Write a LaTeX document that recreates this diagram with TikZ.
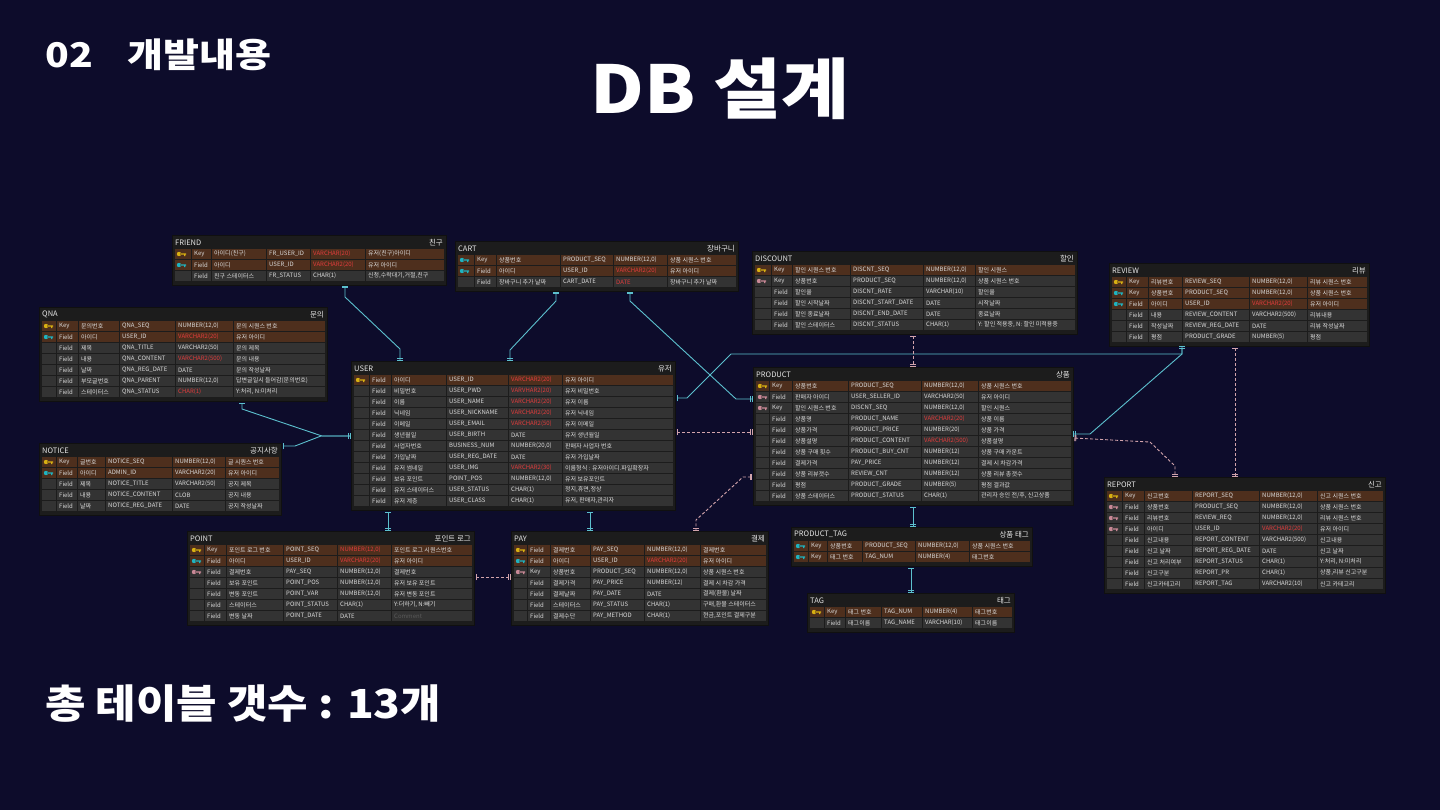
\documentclass[tikz,border=0pt]{standalone}
\usepackage{fontspec}
\setmainfont{Noto Sans CJK KR}
\usetikzlibrary{arrows.meta}

\definecolor{deepnavy}{HTML}{0D0C2B}
\definecolor{boxfill}{HTML}{1C1C1C}
\definecolor{boxline}{HTML}{101010}
\definecolor{rowkey}{HTML}{4E2F1D}
\definecolor{rowplain}{HTML}{333333}
\definecolor{celltext}{HTML}{DADADA}
\definecolor{titletext}{HTML}{E6E6E6}
\definecolor{dimtext}{HTML}{5A5A5A}
\definecolor{typered}{HTML}{E23C3C}
\definecolor{keygold}{HTML}{D8B012}
\definecolor{keyteal}{HTML}{1FB3C0}
\definecolor{keypink}{HTML}{C98896}
\definecolor{linkteal}{HTML}{5CC0CE}
\definecolor{linkpink}{HTML}{D2A4AC}

\newcommand{\redtype}[1]{\textcolor{typered}{#1}}

% column edges of the current table
\def\erdsetcols#1,#2,#3,#4,#5,#6\relax{%
  \pgfmathsetmacro\erdca{\erdx+2}%
  \pgfmathsetmacro\erdcb{\erdca+#1}%
  \pgfmathsetmacro\erdcc{\erdcb+#2}%
  \pgfmathsetmacro\erdcd{\erdcc+#3}%
  \pgfmathsetmacro\erdce{\erdcd+#4}%
  \pgfmathsetmacro\erdcf{\erdce+#5}%
  \pgfmathsetmacro\erdcg{\erdcf+#6}%
  \pgfmathsetmacro\erdw{\erdcg+2-\erdx}}

% name, x, y, rows, title, korean title, column widths
\newcommand{\erdtable}[7]{%
  \def\erdname{#1}\def\erdx{#2}\def\erdy{#3}%
  \erdsetcols#7\relax
  \pgfmathsetmacro\erdh{17+11*#4}%
  \node[erdbox, minimum width=\erdw pt, minimum height=\erdh pt] (#1) at (#2,#3) {};
  \node[erdtitle, anchor=west] (#1-title) at (#2+3,#3+7.5) {#5};
  \node[erdtitle, anchor=east] (#1-kr) at (#2+\erdw-3,#3+7.5) {#6};
}

% row, key colour, row fill, kind, korean name, column, type, note
\newcommand{\erdrow}[8]{%
  \pgfmathsetmacro\erdry{\erdy+14+11*(#1-1)}%
  \foreach \lx/\rx in {\erdca/\erdcb,\erdcb/\erdcc,\erdcc/\erdcd,\erdcd/\erdce,\erdce/\erdcf,\erdcf/\erdcg}
    {\fill[#3] (\lx+0.5,\erdry) rectangle (\rx-0.5,\erdry+10);}
  \path[fill=#2] (\erdca+5,\erdry+5) circle (2.2)
    (\erdca+6,\erdry+4.3) rectangle (\erdca+12,\erdry+5.7)
    (\erdca+10,\erdry+5) rectangle (\erdca+11.3,\erdry+7.2);
  \node[erdcell] (\erdname-#1-kind) at (\erdcb+3,\erdry+5) {#4};
  \node[erdcell] (\erdname-#1-kor) at (\erdcc+3,\erdry+5) {#5};
  \node[erdcell] (\erdname-#1-col) at (\erdcd+3,\erdry+5) {#6};
  \node[erdcell] (\erdname-#1-type) at (\erdce+3,\erdry+5) {#7};
  \node[erdcell] (\erdname-#1-note) at (\erdcf+3,\erdry+5) {#8};
}

\begin{document}
\begin{tikzpicture}[x=1pt, y=-1pt,
    erdbox/.style={rectangle, draw=boxline, fill=boxfill, anchor=north west, inner sep=0pt, outer sep=0pt},
    erdtitle/.style={inner sep=0pt, text=titletext, font=\fontsize{7.5}{9}\selectfont},
    erdcell/.style={anchor=west, inner sep=0pt, text=celltext, font=\fontsize{6}{7}\selectfont},
    relteal/.style={draw=linkteal, line width=0.9pt,
      {Bar[width=6pt,sep=1.5pt]Bar[width=6pt]}-{Bar[width=6pt,sep=1.5pt]Bar[width=6pt]}},
    relpink/.style={draw=linkpink, line width=0.9pt, dash pattern=on 3pt off 2pt,
      {Bar[width=6pt,sep=1.5pt]Bar[width=6pt]}-{Bar[width=6pt,sep=1.5pt]Bar[width=6pt]}},
    headline/.style={inner sep=0pt, text=white}
]
  \useasboundingbox (0,0) rectangle (1440,810);
  \fill[deepnavy] (0,0) rectangle (1440,810);

  \node[headline, anchor=west, xscale=1.15, font=\bfseries\fontsize{34}{40}\selectfont] (section) at (45,55) {02\hspace{30pt}개발내용};
  \node[headline, xscale=1.12, font=\bfseries\fontsize{66}{72}\selectfont] (heading) at (720,89) {DB 설계};
  \node[headline, anchor=west, xscale=1.1, font=\bfseries\fontsize{40}{44}\selectfont] (summary) at (45,704) {총 테이블 갯수 : 13개};

  \erdtable{friend}{172}{235}{3}{FRIEND}{친구}{17,20,55,44,55,79}
  \erdrow{1}{keygold}{rowkey}{Key}{아이디(친구)}{FR\_USER\_ID}{\redtype{VARCHAR(20)}}{유저(친구)아이디}
  \erdrow{2}{keyteal}{rowkey}{Field}{아이디}{USER\_ID}{\redtype{VARCHAR2(20)}}{유저 아이디}
  \erdrow{3}{none}{rowplain}{Field}{친구 스테이터스}{FR\_STATUS}{CHAR(1)}{신청,수락대기,거절,친구}

  \erdtable{cart}{455}{241}{3}{CART}{장바구니}{17,22,64,53,54,69}
  \erdrow{1}{keyteal}{rowkey}{Key}{상품번호}{PRODUCT\_SEQ}{NUMBER(12,0)}{상품 시퀀스 번호}
  \erdrow{2}{keyteal}{rowkey}{Field}{아이디}{USER\_ID}{\redtype{VARCHAR2(20)}}{유저 아이디}
  \erdrow{3}{none}{rowplain}{Field}{장바구니 추가 날짜}{CART\_DATE}{\redtype{DATE}}{장바구니 추가 날짜}

  \erdtable{discount}{752}{251}{6}{DISCOUNT}{할인}{17,21,58,73,52,100}
  \erdrow{1}{keygold}{rowkey}{Key}{할인 시퀀스 번호}{DISCNT\_SEQ}{NUMBER(12,0)}{할인 시퀀스}
  \erdrow{2}{keypink}{rowplain}{Key}{상품번호}{PRODUCT\_SEQ}{NUMBER(12,0)}{상품 시퀀스 번호}
  \erdrow{3}{none}{rowplain}{Field}{할인율}{DISCNT\_RATE}{VARCHAR(10)}{할인율}
  \erdrow{4}{none}{rowplain}{Field}{할인 시작날짜}{DISCNT\_START\_DATE}{DATE}{시작날짜}
  \erdrow{5}{none}{rowplain}{Field}{할인 종료날짜}{DISCNT\_END\_DATE}{DATE}{종료날짜}
  \erdrow{6}{none}{rowplain}{Field}{할인 스테이터스}{DISCNT\_STATUS}{CHAR(1)}{Y: 할인 적용중, N: 할인 미적용중}

  \erdtable{review}{1109}{263}{6}{REVIEW}{리뷰}{15,22,34,67,58,60}
  \erdrow{1}{keygold}{rowkey}{Key}{리뷰번호}{REVIEW\_SEQ}{NUMBER(12,0)}{리뷰 시퀀스 번호}
  \erdrow{2}{keyteal}{rowkey}{Key}{상품번호}{PRODUCT\_SEQ}{NUMBER(12,0)}{상품 시퀀스 번호}
  \erdrow{3}{keyteal}{rowkey}{Field}{아이디}{USER\_ID}{\redtype{VARCHAR2(20)}}{유저 아이디}
  \erdrow{4}{none}{rowplain}{Field}{내용}{REVIEW\_CONTENT}{VARCHAR2(500)}{리뷰내용}
  \erdrow{5}{none}{rowplain}{Field}{작성날짜}{REVIEW\_REG\_DATE}{DATE}{리뷰 작성날짜}
  \erdrow{6}{none}{rowplain}{Field}{평점}{PRODUCT\_GRADE}{NUMBER(5)}{평점}

  \erdtable{qna}{39}{307}{7}{QNA}{문의}{15,22,41,56,58,92}
  \erdrow{1}{keygold}{rowkey}{Key}{문의번호}{QNA\_SEQ}{NUMBER(12,0)}{문의 시퀀스 번호}
  \erdrow{2}{keyteal}{rowkey}{Field}{아이디}{USER\_ID}{\redtype{VARCHAR2(20)}}{유저 아이디}
  \erdrow{3}{none}{rowplain}{Field}{제목}{QNA\_TITLE}{VARCHAR2(50)}{문의 제목}
  \erdrow{4}{none}{rowplain}{Field}{내용}{QNA\_CONTENT}{\redtype{VARCHAR2(500)}}{문의 내용}
  \erdrow{5}{none}{rowplain}{Field}{날짜}{QNA\_REG\_DATE}{DATE}{문의 작성날짜}
  \erdrow{6}{none}{rowplain}{Field}{부모글번호}{QNA\_PARENT}{NUMBER(12,0)}{답변글일시 들어감(문의번호)}
  \erdrow{7}{none}{rowplain}{Field}{스테이터스}{QNA\_STATUS}{\redtype{CHAR(1)}}{Y:처리, N:미처리}

  \erdtable{user}{351}{361}{12}{USER}{유저}{16,22,55,62,54,111}
  \erdrow{1}{keygold}{rowkey}{Field}{아이디}{USER\_ID}{\redtype{VARCHAR2(20)}}{유저 아이디}
  \erdrow{2}{none}{rowplain}{Field}{비밀번호}{USER\_PWD}{\redtype{VARVHAR2(20)}}{유저 비밀번호}
  \erdrow{3}{none}{rowplain}{Field}{이름}{USER\_NAME}{\redtype{VARCHAR2(20)}}{유저 이름}
  \erdrow{4}{none}{rowplain}{Field}{닉네임}{USER\_NICKNAME}{\redtype{VARCHAR2(20)}}{유저 닉네임}
  \erdrow{5}{none}{rowplain}{Field}{이메일}{USER\_EMAIL}{\redtype{VARCHAR2(50)}}{유저 이메일}
  \erdrow{6}{none}{rowplain}{Field}{생년월일}{USER\_BIRTH}{DATE}{유저 생년월일}
  \erdrow{7}{none}{rowplain}{Field}{사업자번호}{BUSINESS\_NUM}{NUMBER(20,0)}{판매자 사업자 번호}
  \erdrow{8}{none}{rowplain}{Field}{가입날짜}{USER\_REG\_DATE}{DATE}{유저 가입날짜}
  \erdrow{9}{none}{rowplain}{Field}{유저 썸네일}{USER\_IMG}{\redtype{VARCHAR2(30)}}{이름형식 : 유저아이디.파일확장자}
  \erdrow{10}{none}{rowplain}{Field}{보유 포인트}{POINT\_POS}{NUMBER(12,0)}{유저 보유포인트}
  \erdrow{11}{none}{rowplain}{Field}{유저 스테이터스}{USER\_STATUS}{CHAR(1)}{정지,휴면,정상}
  \erdrow{12}{none}{rowplain}{Field}{유저 계층}{USER\_CLASS}{CHAR(1)}{유저, 판매자,관리자}

  \erdtable{product}{753}{367}{11}{PRODUCT}{상품}{14,23,56,73,57,93}
  \erdrow{1}{keygold}{rowkey}{Key}{상품번호}{PRODUCT\_SEQ}{NUMBER(12,0)}{상품 시퀀스 번호}
  \erdrow{2}{keypink}{rowplain}{Field}{판매자 아이디}{USER\_SELLER\_ID}{VARCHAR2(50)}{유저 아이디}
  \erdrow{3}{keypink}{rowplain}{Key}{할인 시퀀스 번호}{DISCNT\_SEQ}{NUMBER(12,0)}{할인 시퀀스}
  \erdrow{4}{none}{rowplain}{Field}{상품명}{PRODUCT\_NAME}{\redtype{VARCHAR2(20)}}{상품 이름}
  \erdrow{5}{none}{rowplain}{Field}{상품가격}{PRODUCT\_PRICE}{NUMBER(20)}{상품 가격}
  \erdrow{6}{none}{rowplain}{Field}{상품설명}{PRODUCT\_CONTENT}{\redtype{VARCHAR2(500)}}{상품설명}
  \erdrow{7}{none}{rowplain}{Field}{상품 구매 횟수}{PRODUCT\_BUY\_CNT}{NUMBER(12)}{상품 구매 카운트}
  \erdrow{8}{none}{rowplain}{Field}{결제가격}{PAY\_PRICE}{NUMBER(12)}{결제 시 차감가격}
  \erdrow{9}{none}{rowplain}{Field}{상품 리뷰갯수}{REVIEW\_CNT}{NUMBER(12)}{상품 리뷰 총갯수}
  \erdrow{10}{none}{rowplain}{Field}{평점}{PRODUCT\_GRADE}{NUMBER(5)}{평점 결과값}
  \erdrow{11}{none}{rowplain}{Field}{상품 스테이터스}{PRODUCT\_STATUS}{CHAR(1)}{관리자 승인 전/후, 신고상품}

  \erdtable{notice}{39}{443}{5}{NOTICE}{공지사항}{15,21,28,67,53,54}
  \erdrow{1}{keygold}{rowkey}{Key}{글번호}{NOTICE\_SEQ}{NUMBER(12,0)}{글 시퀀스 번호}
  \erdrow{2}{keyteal}{rowkey}{Field}{아이디}{ADMIN\_ID}{VARCHAR2(20)}{유저 아이디}
  \erdrow{3}{none}{rowplain}{Field}{제목}{NOTICE\_TITLE}{VARCHAR2(50)}{공지 제목}
  \erdrow{4}{none}{rowplain}{Field}{내용}{NOTICE\_CONTENT}{CLOB}{공지 내용}
  \erdrow{5}{none}{rowplain}{Field}{날짜}{NOTICE\_REG\_DATE}{DATE}{공지 작성날짜}

  \erdtable{report}{1104}{477}{9}{REPORT}{신고}{16,22,48,67,58,66}
  \erdrow{1}{keygold}{rowkey}{Key}{신고번호}{REPORT\_SEQ}{NUMBER(12,0)}{신고 시퀀스 번호}
  \erdrow{2}{keypink}{rowplain}{Field}{상품번호}{PRODUCT\_SEQ}{NUMBER(12,0)}{상품 시퀀스 번호}
  \erdrow{3}{keypink}{rowplain}{Field}{리뷰번호}{REVIEW\_REQ}{NUMBER(12,0)}{리뷰 시퀀스 번호}
  \erdrow{4}{keypink}{rowplain}{Field}{아이디}{USER\_ID}{\redtype{VARCHAR2(20)}}{유저 아이디}
  \erdrow{5}{none}{rowplain}{Field}{신고내용}{REPORT\_CONTENT}{VARCHAR2(500)}{신고내용}
  \erdrow{6}{none}{rowplain}{Field}{신고 날짜}{REPORT\_REG\_DATE}{DATE}{신고 날짜}
  \erdrow{7}{none}{rowplain}{Field}{신고 처리여부}{REPORT\_STATUS}{CHAR(1)}{Y:처리, N:미처리}
  \erdrow{8}{none}{rowplain}{Field}{신고구분}{REPORT\_PR}{CHAR(1)}{상품,리뷰 신고구분}
  \erdrow{9}{none}{rowplain}{Field}{신고카테고리}{REPORT\_TAG}{VARCHAR2(10)}{신고 카테고리}

  \erdtable{point}{187}{531}{7}{POINT}{포인트 로그}{15,22,57,54,54,81}
  \erdrow{1}{keygold}{rowkey}{Key}{포인트 로그 번호}{POINT\_SEQ}{\redtype{NUMBER(12,0)}}{포인트 로그 시퀀스번호}
  \erdrow{2}{keyteal}{rowkey}{Field}{아이디}{USER\_ID}{\redtype{VARCHAR2(20)}}{유저 아이디}
  \erdrow{3}{keypink}{rowplain}{Field}{결제번호}{PAY\_SEQ}{NUMBER(12,0)}{결제번호}
  \erdrow{4}{none}{rowplain}{Field}{보유 포인트}{POINT\_POS}{NUMBER(12,0)}{유저 보유 포인트}
  \erdrow{5}{none}{rowplain}{Field}{변동 포인트}{POINT\_VAR}{NUMBER(12,0)}{유저 변동 포인트}
  \erdrow{6}{none}{rowplain}{Field}{스테이터스}{POINT\_STATUS}{CHAR(1)}{Y:더하기, N:빼기}
  \erdrow{7}{none}{rowplain}{Field}{변동 날짜}{POINT\_DATE}{DATE}{\textcolor{dimtext}{Comment}}

  \erdtable{pay}{511}{531}{7}{PAY}{결제}{14,23,40,54,56,66}
  \erdrow{1}{keygold}{rowkey}{Field}{결제번호}{PAY\_SEQ}{NUMBER(12,0)}{결제번호}
  \erdrow{2}{keyteal}{rowkey}{Field}{아이디}{USER\_ID}{\redtype{VARCHAR2(20)}}{유저 아이디}
  \erdrow{3}{keypink}{rowplain}{Key}{상품번호}{PRODUCT\_SEQ}{NUMBER(12,0)}{상품 시퀀스 번호}
  \erdrow{4}{none}{rowplain}{Field}{결제가격}{PAY\_PRICE}{NUMBER(12)}{결제 시 차감 가격}
  \erdrow{5}{none}{rowplain}{Field}{결제날짜}{PAY\_DATE}{DATE}{결제(환불) 날짜}
  \erdrow{6}{none}{rowplain}{Field}{스테이터스}{PAY\_STATUS}{CHAR(1)}{구매,환불 스테이터스}
  \erdrow{7}{none}{rowplain}{Field}{결제수단}{PAY\_METHOD}{CHAR(1)}{현금,포인트 결제구분}

  \erdtable{ptag}{791}{527}{2}{PRODUCT\_TAG}{상품 태그}{15,19,35,53,54,61}
  \erdrow{1}{keyteal}{rowkey}{Key}{상품번호}{PRODUCT\_SEQ}{NUMBER(12,0)}{상품 시퀀스 번호}
  \erdrow{2}{keyteal}{rowkey}{Key}{태그 번호}{TAG\_NUM}{NUMBER(4)}{태그번호}

  \erdtable{tag}{807}{593}{2}{TAG}{태그}{15,21,36,41,50,40}
  \erdrow{1}{keygold}{rowkey}{Key}{태그 번호}{TAG\_NUM}{NUMBER(4)}{태그번호}
  \erdrow{2}{none}{rowplain}{Field}{태그이름}{TAG\_NAME}{VARCHAR(10)}{태그이름}

  % relations
  \draw[relteal] ([xshift=173pt]friend.south west) -- ++(0,12) -- ++(55,52) -- ([xshift=49pt]user.north west);
  \draw[relteal] ([xshift=101pt]cart.south west) -- ++(0,10) -- ++(-46,49) -- ([xshift=159pt]user.north west);
  \draw[relteal] ([xshift=175pt]cart.south west) -- ++(0,10) -- ++(106,98) -- ([yshift=-32pt]product.north west);
  \draw[relteal] ([yshift=-37pt]user.north east) -- ++(12,0) -- ++(44,-44) -| ([xshift=73pt]review.south west);
  \draw[relteal] ([xshift=73pt]review.south west) -- ++(0,8) -- ++(-92,80) -- ([yshift=-67pt]product.north east);
  \draw[relteal] ([xshift=203pt]qna.south west) -- ++(0,8) -- ++(80,27) -- ([yshift=-75pt]user.north west);
  \draw[relteal] ([yshift=-3pt]notice.north east) -- ++(14,0) -- ++(26,-10) -- ([yshift=-75pt]user.north west);
  \draw[relteal] ([xshift=37pt]user.south west) -- ([xshift=201pt]point.north west);
  \draw[relteal] ([xshift=239pt]user.south west) -- ([xshift=79pt]pay.north west);
  \draw[relteal] ([xshift=160pt]product.south west) -- ([xshift=122pt]ptag.north west);
  \draw[relteal] ([xshift=120pt]ptag.south west) -- ([xshift=104pt]tag.north west);
  \draw[relpink] ([yshift=-71pt]user.north east) -- ([yshift=-65pt]product.north west);
  \draw[relpink] ([xshift=161pt]discount.south west) -- ([xshift=160pt]product.north west);
  \draw[relpink] ([xshift=126pt]review.south west) -- ([xshift=131pt]report.north west);
  \draw[relpink] ([yshift=-71pt]product.north east) -- ++(77,4) -- ++(25,24) -- ([xshift=71pt]report.north west);
  \draw[relpink] ([yshift=-110pt]product.north west) -- ++(-10,0) -- ++(-47,43) -- ([xshift=185pt]pay.north west);
  \draw[relpink] ([yshift=-46pt]point.north east) -- ([yshift=-46pt]pay.north west);
\end{tikzpicture}
\end{document}
